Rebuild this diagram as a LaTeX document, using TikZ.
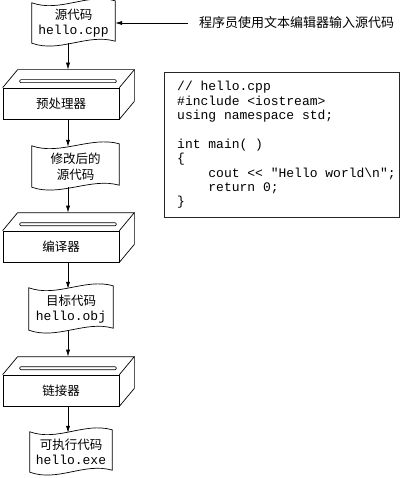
\documentclass[tikz,border=0pt]{standalone}
\usepackage{fontspec}
\setmonofont{Liberation Mono}
\newfontfamily\cjk{Noto Sans CJK SC}
\usetikzlibrary{arrows.meta,calc}
\newcommand\monot{\ttfamily\fontsize{13}{15.5}\selectfont}
\newcommand\wdoc[1]{%
  \draw[ln] (#1.north west) .. controls ([shift={(28,10)}]#1.north west) and ([shift={(-28,-10)}]#1.north east) .. ([shift={(0,-2)}]#1.north east)
    -- ([shift={(0,-2)}]#1.south east) .. controls ([shift={(-28,-10)}]#1.south east) and ([shift={(28,10)}]#1.south west) .. (#1.south west) -- cycle;}
\newcommand\pbox[1]{%
  \draw[ln] (#1.north west) -- ++(15,-18) -- ([shift={(15,-18)}]#1.north east) -- (#1.north east);
  \draw[ln] ([shift={(15,-18)}]#1.north east) -- ([shift={(15,-18)}]#1.south east) -- (#1.south east);
  \draw[ln, rounded corners=1.2pt] ([shift={(17,-8)}]#1.north west) rectangle ([shift={(-3,-5)}]#1.north east);
  \coordinate (#1top) at ([shift={(7,-18)}]#1.north);}
\tikzset{
  ln/.style={line width=0.7pt, black},
  arr/.style={ln, -{Latex[length=7pt,width=4.2pt]}},
  docnode/.style={inner sep=0pt, align=center, font=\cjk\fontsize{12.5}{15.5}\selectfont},
  face/.style={ln, draw, inner sep=0pt, minimum width=116pt, minimum height=31pt, font=\cjk\fontsize{12.5}{15}\selectfont},
}
\begin{document}
\begin{tikzpicture}[x=1pt,y=-1pt]
\useasboundingbox (0,0) rectangle (400,478);
% documents
\node[docnode, minimum width=83pt, minimum height=40pt] (d1) at (73.5,23) {源代码\\{\monot hello.cpp}};
\node[docnode, minimum width=87pt, minimum height=41pt] (d2) at (75.5,166.5) {修改后的\\源代码};
\node[docnode, minimum width=84pt, minimum height=42pt] (d3) at (71,309) {目标代码\\{\monot hello.obj}};
\node[docnode, minimum width=82pt, minimum height=40pt] (d4) at (71,452) {可执行代码\\{\monot hello.exe}};
\wdoc{d1}\wdoc{d2}\wdoc{d3}\wdoc{d4}
% boxes
\node[face] (p1) at (61,103.5) {预处理器};
\node[face] (p2) at (61,246.5) {编译器};
\node[face] (p3) at (61,390.5) {链接器};
\pbox{p1}\pbox{p2}\pbox{p3}
% arrows
\draw[arr] (d1.south -| p1top) -- (p1top);
\draw[arr, shorten >=-1pt] (p1.south -| p1top) -- (d2.north -| p1top);
\draw[arr] (d2.south -| p2top) -- (p2top);
\draw[arr, shorten >=-1pt] (p2.south -| p2top) -- (d3.north -| p2top);
\draw[arr] (d3.south -| p3top) -- (p3top);
\draw[arr, shorten >=-1pt] (p3.south -| p3top) -- (d4.north -| p3top);
% label
\node[anchor=west, inner sep=0pt, font=\cjk\fontsize{13}{15}\selectfont] (lbl) at (199,23) {程序员使用文本编辑器输入源代码};
\draw[arr] ([xshift=-11pt]lbl.west) -- (d1.east |- lbl.west);
% code box
\node[draw, line width=0.9pt, black!85, anchor=north west, inner sep=0pt, minimum width=235pt, minimum height=145pt] (code) at (164,72) {};
\node[anchor=north west, inner sep=0pt, align=left, font=\ttfamily\fontsize{13}{14.4}\selectfont] (ct) at ([shift={(13,9)}]code.north west)
 {// hello.cpp\\\#include <iostream>\\using namespace std;\\\mbox{}\\int main( )\\\{\\\phantom{xxxx}cout << "Hello world\textbackslash n";\\\phantom{xxxx}return 0;\\\}};
\end{tikzpicture}
\end{document}
